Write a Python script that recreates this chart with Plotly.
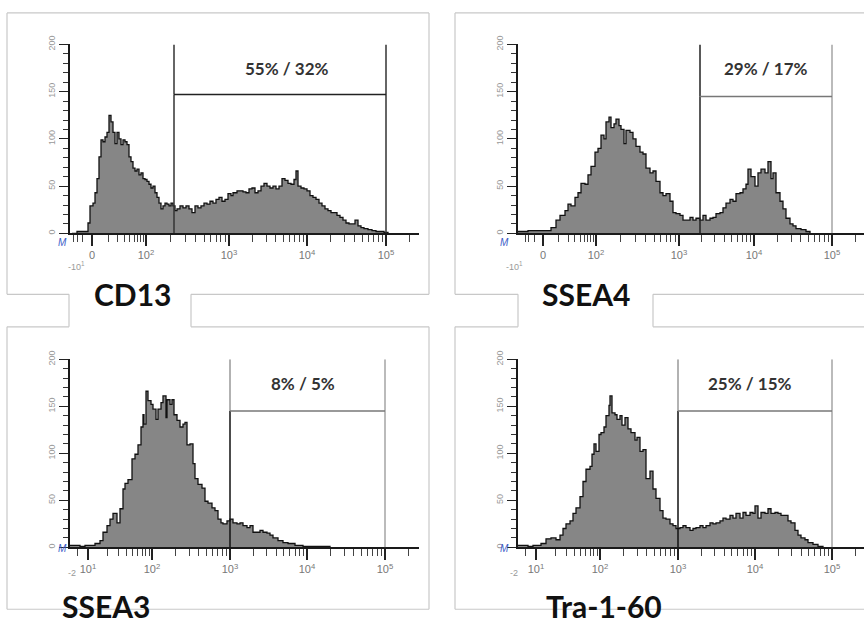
import numpy as np
import plotly.graph_objects as go

W, H = 864, 627

# ---------------- data (display channel, event counts) ----------------
cd13_ch = [2, 7, 12, 15, 18, 20, 23, 25, 27, 29, 31, 33, 35, 37, 39, 41, 43, 45, 47, 49, 51, 53, 55, 57, 59, 61, 63, 65, 67, 69, 71, 73, 75, 77, 79, 81, 83, 85, 87, 89, 91, 93, 95, 97, 99, 101, 103, 105, 107, 110, 113, 116, 119, 122, 125, 128, 131, 134, 137, 140, 143, 146, 149, 152, 155, 158, 161, 163, 167, 170, 173, 176, 179, 182, 185, 188, 191, 194, 197, 200, 203, 206, 209, 212, 215, 218, 221, 224, 226, 228, 231, 234, 237, 240, 243, 246, 249, 252, 255, 258, 261, 264, 267, 270, 273, 276, 279, 282, 285, 288, 291, 294, 298, 302, 306, 310, 314, 318]
cd13_counts = [0, 2, 2, 2, 11, 29, 32, 43, 58, 81, 99, 97, 102, 107, 125, 118, 107, 95, 107, 100, 94, 99, 97, 94, 81, 76, 69, 66, 68, 62, 64, 58, 57, 55, 52, 48, 50, 43, 38, 32, 26, 29, 32, 31, 29, 32, 29, 24, 26, 29, 27, 29, 26, 22, 29, 27, 29, 32, 31, 34, 32, 36, 38, 34, 36, 42, 40, 43, 45, 45, 44, 43, 47, 48, 43, 45, 50, 53, 50, 48, 50, 47, 50, 58, 56, 53, 52, 57, 66, 50, 48, 47, 45, 40, 38, 36, 32, 29, 26, 24, 22, 22, 19, 17, 14, 11, 10, 10, 14, 8, 6, 5, 4, 3, 2, 2, 1, 0]

ssea4_ch = [0, 5, 10, 15, 20, 25, 30, 33, 38, 42, 47, 50, 53, 57, 60, 63, 67, 70, 73, 77, 80, 83, 86, 88, 91, 93, 96, 98, 101, 103, 106, 108, 112, 115, 118, 122, 125, 128, 132, 135, 138, 142, 145, 148, 152, 155, 158, 162, 165, 168, 172, 175, 178, 182, 185, 188, 192, 195, 198, 202, 205, 208, 212, 215, 218, 222, 225, 228, 230, 233, 237, 240, 243, 247, 250, 253, 255, 258, 262, 265, 268, 272, 275, 278, 283, 288, 292]
ssea4_counts = [2, 2, 3, 3, 3, 3, 3, 6, 14, 19, 24, 31, 29, 38, 43, 53, 52, 62, 71, 86, 90, 104, 100, 118, 123, 112, 116, 121, 114, 110, 95, 109, 107, 100, 92, 86, 84, 69, 64, 66, 55, 43, 40, 42, 34, 22, 21, 19, 14, 14, 17, 14, 16, 14, 19, 14, 16, 17, 21, 22, 27, 32, 36, 34, 42, 43, 47, 52, 68, 60, 50, 64, 68, 64, 76, 58, 64, 43, 34, 26, 16, 10, 8, 5, 4, 2, 0]

ssea3_ch = [0, 5, 10, 15, 20, 25, 30, 33, 37, 40, 43, 47, 50, 53, 55, 58, 62, 65, 68, 71, 73, 74, 76, 78, 81, 83, 86, 88, 91, 93, 96, 97, 100, 102, 104, 107, 110, 113, 115, 117, 120, 123, 125, 128, 132, 135, 138, 142, 145, 148, 151, 153, 157, 160, 163, 167, 170, 173, 177, 180, 183, 187, 190, 193, 197, 200, 203, 208, 213, 218, 225, 233, 245, 260]
ssea3_counts = [2, 2, 1, 2, 2, 4, 7, 16, 23, 30, 36, 26, 41, 62, 68, 72, 94, 99, 109, 128, 141, 131, 166, 156, 152, 147, 136, 147, 154, 161, 138, 157, 152, 157, 141, 135, 128, 131, 133, 109, 110, 89, 73, 67, 63, 49, 47, 42, 39, 30, 26, 25, 28, 30, 26, 25, 26, 23, 21, 23, 16, 16, 18, 16, 15, 13, 10, 7, 5, 4, 2, 1, 1, 0]

tra_ch = [0, 5, 10, 15, 20, 23, 28, 33, 38, 42, 45, 48, 52, 55, 58, 62, 65, 68, 72, 74, 76, 78, 81, 83, 86, 88, 91, 92, 94, 97, 99, 102, 104, 107, 110, 113, 117, 119, 122, 125, 128, 132, 135, 138, 142, 145, 148, 152, 155, 158, 162, 165, 168, 172, 175, 178, 182, 185, 188, 192, 195, 198, 202, 205, 208, 212, 215, 218, 222, 225, 228, 232, 235, 237, 240, 243, 247, 250, 253, 257, 260, 263, 267, 270, 273, 277, 280, 283, 287, 290, 295, 300, 305]
tra_counts = [2, 2, 1, 2, 2, 4, 9, 10, 8, 13, 20, 25, 28, 36, 42, 54, 70, 83, 86, 99, 110, 102, 120, 122, 128, 140, 151, 161, 143, 141, 136, 140, 130, 138, 126, 122, 114, 117, 102, 104, 73, 81, 62, 52, 39, 31, 30, 25, 23, 20, 21, 23, 21, 18, 20, 21, 23, 21, 23, 26, 25, 26, 28, 31, 30, 34, 31, 36, 31, 37, 34, 37, 36, 44, 31, 37, 36, 41, 36, 37, 36, 34, 34, 28, 26, 18, 13, 10, 8, 5, 3, 1, 0]

# decade tick labels and their display-channel positions
ticks_cd13 = [22, 76, 159, 237, 316]
ticks_ssea4 = [25, 78, 161, 236, 314]
ticks_ssea3 = [18, 82, 160, 237, 315]
ticks_tra = [18, 82, 160, 237, 314]
labels_zero = ["0", "10<sup>2</sup>", "10<sup>3</sup>", "10<sup>4</sup>", "10<sup>5</sup>"]
labels_ten = ["10<sup>1</sup>", "10<sup>2</sup>", "10<sup>3</sup>", "10<sup>4</sup>", "10<sup>5</sup>"]

markers = ["CD13", "SSEA4", "SSEA3", "Tra-1-60"]
pct_text = ["55% / 32%", "29% / 17%", "8% / 5%", "25% / 15%"]
gate_left = [104, 182, 160, 160]
gate_right = [316, 314, 315, 314]
gate_level = [147, 145, 145, 145]
pct_pos = [(217, 175), (248, 175), (233, 174), (232, 174)]

y_ticks = [0, 50, 100, 150, 200]

# ---------------- layout geometry (pixels) ----------------
panels = [
    dict(ch=cd13_ch, n=cd13_counts, ticks=ticks_cd13, tl=labels_zero, x0=70, x1=419, ytop=36, ybot=228),
    dict(ch=ssea4_ch, n=ssea4_counts, ticks=ticks_ssea4, tl=labels_zero, x0=518, x1=864, ytop=36, ybot=228),
    dict(ch=ssea3_ch, n=ssea3_counts, ticks=ticks_ssea3, tl=labels_ten, x0=70, x1=419, ytop=356, ybot=547),
    dict(ch=tra_ch, n=tra_counts, ticks=ticks_tra, tl=labels_ten, x0=518, x1=864, ytop=356, ybot=547),
]


def px(x):
    return x / W


def py(y):
    return 1 - y / H


def minor_ticks(tk, xmax):
    out = []
    for a, b in zip(tk[:-1], tk[1:]):
        for m in range(2, 10):
            out.append(a + np.log10(m) * (b - a))
    a, b = tk[-2], tk[-1]
    step = b - a
    for m in range(2, 10):
        v = b + np.log10(m) * step
        if v < xmax:
            out.append(v)
    a, b = tk[0], tk[1]
    for m in (3, 6, 9):
        v = a - np.log10(m) * (b - a) * 0.35
        if v > 1:
            out.append(v)
    return out


fig = go.Figure()
layout = dict(
    width=W, height=H, margin=dict(l=0, r=0, t=0, b=0),
    paper_bgcolor="white", plot_bgcolor="white", showlegend=False,
)
shapes = []
annotations = []

for i, p in enumerate(panels):
    k = "" if i == 0 else str(i + 1)
    xa, ya = "x" + k, "y" + k
    width = p["x1"] - p["x0"]
    fig.add_trace(go.Scatter(
        x=p["ch"], y=p["n"], mode="lines", xaxis=xa, yaxis=ya,
        line=dict(color="#111111", width=1.3, shape="hv"), fill="tozeroy", fillcolor="#868686",
        hoverinfo="skip",
    ))
    layout["xaxis" + k] = dict(
        domain=[px(p["x0"]), min(1.0, px(p["x1"]))], anchor=ya, range=[0, width],
        showgrid=False, zeroline=False, showline=True, linecolor="#1a1a1a", linewidth=1.5,
        tickmode="array", tickvals=p["ticks"], ticktext=p["tl"],
        ticks="outside", ticklen=11, tickcolor="#222", tickwidth=1.5,
        tickfont=dict(family="Liberation Sans", size=11, color="#777"),
        minor=dict(tickmode="array", tickvals=minor_ticks(p["ticks"], width),
                   ticks="outside", ticklen=7, tickcolor="#444", tickwidth=1.2),
        fixedrange=True,
    )
    layout["yaxis" + k] = dict(
        domain=[py(p["ybot"]), py(p["ytop"])], anchor=xa, range=[0, 200],
        showgrid=False, zeroline=False, showline=True, linecolor="#1a1a1a", linewidth=1.5,
        tickmode="array", tickvals=y_ticks, ticks="outside", ticklen=9, tickcolor="#222",
        tickwidth=1.2, tickangle=-90, ticklabelstandoff=1,
        tickfont=dict(family="Liberation Sans", size=9, color="#999"),
        minor=dict(dtick=10, ticks="outside", ticklen=5, tickcolor="#333", tickwidth=1.2),
        fixedrange=True,
    )
    gl, gr, lev = gate_left[i], gate_right[i], gate_level[i]
    if i == 0:
        cl_lo = cl_hi = "#333333"
        cr = "#333333"
        ch_col = "#222222"
    elif i == 1:
        cl_lo = cl_hi = "#222222"
        cr = "#bbbbbb"
        ch_col = "#777777"
    else:
        cl_lo, cl_hi = "#111111", "#999999"
        cr = "#bbbbbb"
        ch_col = "#777777"
    shapes.append(dict(type="line", xref=xa, yref=ya, x0=gl, x1=gl, y0=0, y1=lev,
                       line=dict(color=cl_lo, width=1.5)))
    shapes.append(dict(type="line", xref=xa, yref=ya, x0=gl, x1=gl, y0=lev, y1=200,
                       line=dict(color=cl_hi, width=1.5)))
    shapes.append(dict(type="line", xref=xa, yref=ya, x0=gr, x1=gr, y0=0, y1=200,
                       line=dict(color=cr, width=2 if i else 1.5)))
    shapes.append(dict(type="line", xref=xa, yref=ya, x0=gl, x1=gr, y0=lev, y1=lev,
                       line=dict(color=ch_col, width=1.5)))
    annotations.append(dict(
        xref=xa, yref=ya, x=pct_pos[i][0], y=pct_pos[i][1], text="<b>" + pct_text[i] + "</b>",
        showarrow=False, font=dict(family="Lato", size=17, color="#333333"),
    ))
    annotations.append(dict(
        xref="paper", yref="paper", x=px(p["x0"] - 14), y=py(p["ybot"] + 9),
        text="<i>M</i>", showarrow=False, font=dict(family="Liberation Sans", size=10, color="#3a5bc7"),
    ))
    neg = "-10<sup>1</sup>" if i < 2 else "-2"
    annotations.append(dict(
        xref="paper", yref="paper", x=px(p["x0"] - 4), y=py(p["ybot"] + 33),
        text=neg, showarrow=False, font=dict(family="Liberation Sans", size=9, color="#999"),
    ))

frame = "#c8c8c8"
segs = [
    (7, 4, 429, 4), (7, 4, 7, 290), (429, 4, 429, 290),
    (7, 290, 69, 290), (191, 290, 429, 290), (69, 290, 69, 323), (191, 290, 191, 323),
    (7, 323, 69, 323), (191, 323, 429, 323), (7, 323, 7, 610), (429, 323, 429, 610),
    (7, 610, 429, 610),
    (455, 4, 870, 4), (455, 4, 455, 290),
    (455, 290, 518, 290), (653, 290, 870, 290), (518, 290, 518, 323), (653, 290, 653, 323),
    (455, 323, 518, 323), (653, 323, 870, 323), (455, 323, 455, 610), (455, 610, 870, 610),
]
for x0, y0, x1, y1 in segs:
    shapes.append(dict(type="line", xref="paper", yref="paper", x0=px(x0), y0=py(y0),
                       x1=px(x1), y1=py(y1), line=dict(color=frame, width=1.2), layer="below"))

label_pos = [(132, 290), (586, 290), (106, 607), (604, 607)]
for name, (lx, ly) in zip(markers, label_pos):
    annotations.append(dict(
        xref="paper", yref="paper", x=px(lx), y=py(ly), text="<b>" + name + "</b>",
        showarrow=False, font=dict(family="Lato", size=30, color="#111111"),
        xanchor="center", yanchor="middle", borderpad=0,
    ))

layout["shapes"] = shapes
layout["annotations"] = annotations
fig.update_layout(**layout)
fig.write_html(
    "out.html",
    config={"displayModeBar": False},
    post_script="document.body.style.margin='0';document.body.style.overflow='hidden';",
)
